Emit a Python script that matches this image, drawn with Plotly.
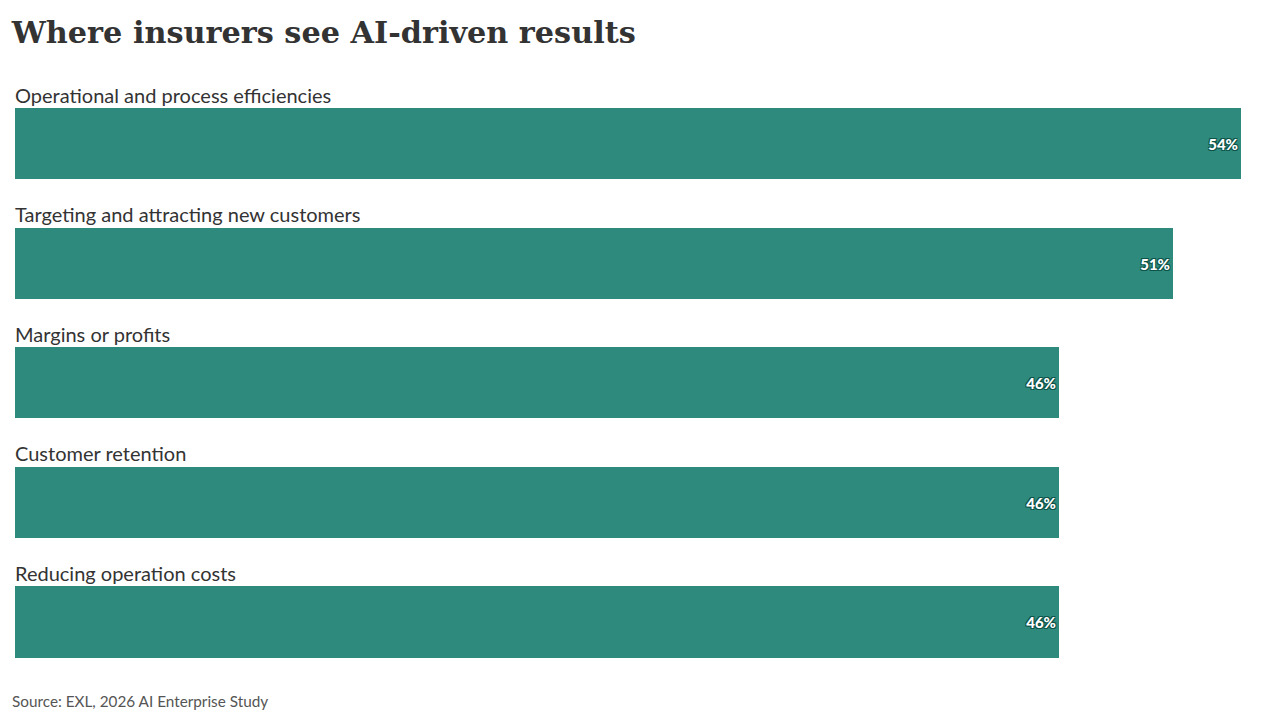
import plotly.graph_objects as go

# data
categories = [
    "Operational and process efficiencies",
    "Targeting and attracting new customers",
    "Margins or profits",
    "Customer retention",
    "Reducing operation costs",
]
values = [54, 51, 46, 46, 46]
value_labels = ["54%", "51%", "46%", "46%", "46%"]

BAR = "#2f8a7e"
TEXT = "#333333"
HALO = "#0c5247"

fig = go.Figure()
fig.add_trace(go.Bar(
    x=values,
    y=categories,
    orientation="h",
    marker=dict(color=BAR, line=dict(width=0)),
    width=0.595,
    text=value_labels,
    textposition="inside",
    insidetextanchor="end",
    textfont=dict(family="Lato", size=15, color="white", weight=900,
                  shadow="1px 1px 0 %s, -1px -1px 0 %s, 1px -1px 0 %s, -1px 1px 0 %s"
                         % (HALO, HALO, HALO, HALO)),
    hoverinfo="skip",
    cliponaxis=False,
))

# category label sits above each bar
for cat in categories:
    fig.add_annotation(
        x=0, xref="paper", y=cat, yref="y",
        text=cat, showarrow=False,
        xanchor="left", yanchor="middle", yshift=49, xshift=-2,
        font=dict(family="Lato", size=20, color=TEXT),
    )

fig.add_annotation(
    text="Source: EXL, 2026 AI Enterprise Study",
    x=0, xref="paper", y=-0.026, yref="paper", xshift=-5,
    xanchor="left", yanchor="middle", showarrow=False,
    font=dict(family="Lato", size=15.3, color="#555555"),
)

fig.update_layout(
    width=1264, height=704,
    margin=dict(l=7, r=31, t=76, b=27),
    paper_bgcolor="white", plot_bgcolor="white",
    showlegend=False,
    bargap=0,
    title=dict(
        text="<b>Where insurers see AI-driven results</b>",
        x=0.003, xanchor="left", y=0.966, yanchor="middle",
        font=dict(family="DejaVu Serif", size=30.3, color=TEXT),
    ),
    xaxis=dict(range=[0, 54], visible=False, fixedrange=True),
    yaxis=dict(categoryorder="array", categoryarray=categories,
               autorange="reversed", visible=False, fixedrange=True),
)

fig.write_html("out.html")
